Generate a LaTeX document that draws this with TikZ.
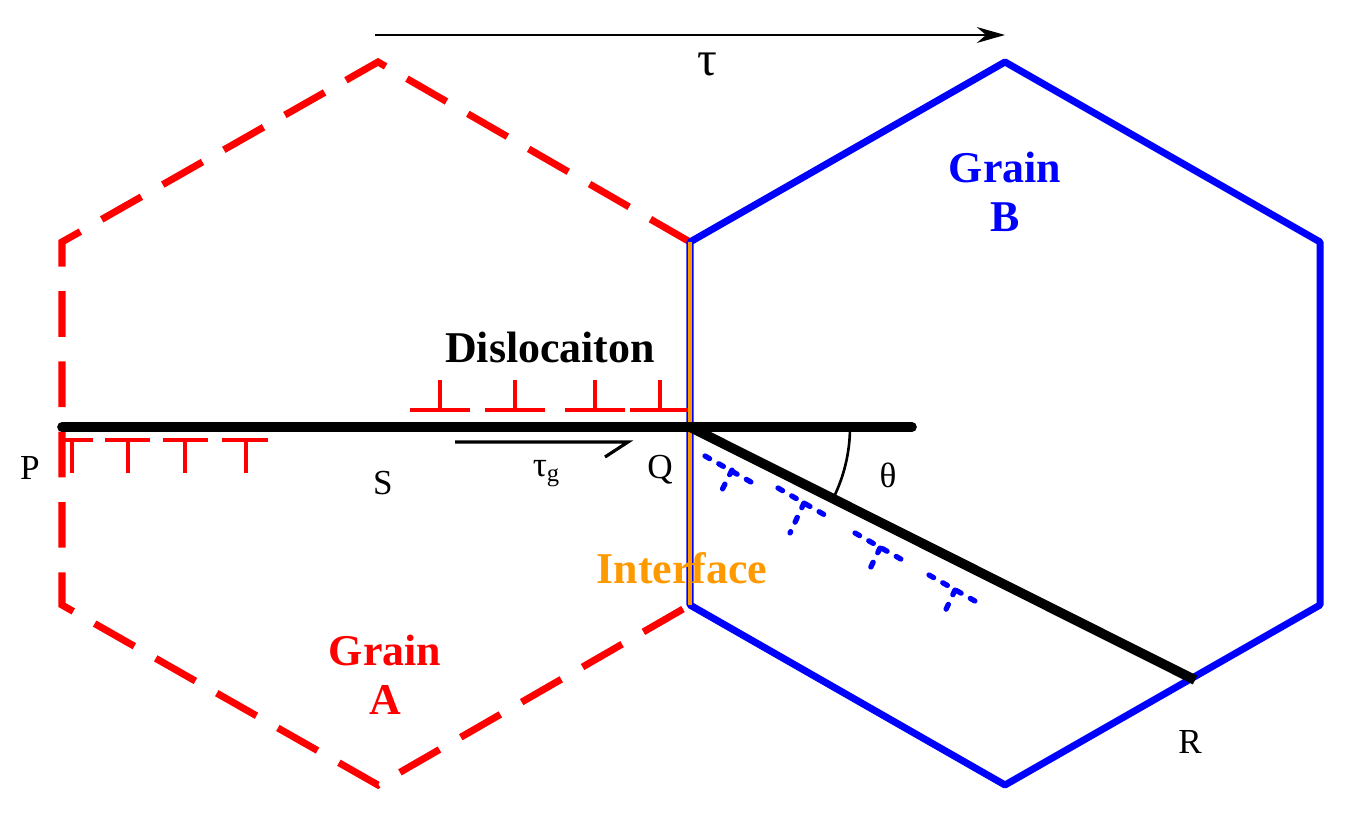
\documentclass[tikz,border=0pt]{standalone}
\usepackage{fontspec}
\setmainfont{Liberation Serif}
\usetikzlibrary{arrows.meta}
\definecolor{ora}{HTML}{FF9900}
\begin{document}
\begin{tikzpicture}[x=0.02cm,y=-0.02cm,
  redhex/.style={draw=red,line width=4pt,dash pattern=on 26pt off 14pt},
  bluehex/.style={draw=blue,line width=4pt,line join=round},
  disl/.style={draw=red,line width=2.2pt},
  bdisl/.style={draw=blue,line width=3pt,dash pattern=on 3pt off 6pt,line cap=round},
  lbl/.style={font=\fontsize{20}{22}\selectfont},
  big/.style={font=\bfseries\fontsize{25}{30}\selectfont,align=center}]
\useasboundingbox (0,0) rectangle (1348,820);
% grain A dashed
\draw[redhex] (690,242) -- (378,62) -- (62,242) -- (62,605) -- (378,785) -- (690,605);
% grain B
\draw[bluehex] (690,242) -- (1005,62) -- (1320,242) -- (1320,605) -- (1005,785) -- (690,605) -- cycle;
\draw[ora,line width=2.5pt] (690,242) -- (690,605);
% tau arrow
\coordinate (t1) at (375,35); \coordinate (t2) at (1005,35);
\draw[line width=1.5pt,-{Stealth[length=16pt,width=9pt]}] (t1) -- (t2);
\node[font=\fontsize{28}{30}\selectfont] (tau) at (707,64) {τ};
% main lines
\coordinate (P) at (62,427); \coordinate (E) at (912,427);
\coordinate (Q) at (690,427); \coordinate (R) at (1195,680);
\draw[line width=5.5pt,line cap=round] (P) -- (E);
\draw[line width=5.5pt] (Q) -- (R);
\draw[line width=1.5pt] (Q) ++(160,0) arc[start angle=0,end angle=26.6,radius=160];
% red dislocations above
\foreach \a/\b/\c in {410/470/440,485/545/515,565/625/595,630/688/660}{
  \draw[disl] (\a,410) -- (\b,410) (\c,410) -- (\c,380);}
% red dislocations below
\foreach \a/\b/\c in {65/93/72,105/150/128,163/208/185,222/268/246}{
  \draw[disl] (\a,440) -- (\b,440) (\c,440) -- (\c,473);}
% tau g arrow
\coordinate (g1) at (455,442); \coordinate (g2) at (628,442); \coordinate (g3) at (605,457);
\draw[line width=1.8pt] (g1) -- (g2) -- (g3);
% blue dislocations
\foreach \a/\b/\c/\d/\e/\f/\g/\h in {705/456/758/486/732/470/718/498, 778/488/830/518/804/503/790/533, 855/533/906/562/880/548/867/575, 929/575/982/605/955/590/942/618}{
  \draw[bdisl] (\a,\b) -- (\c,\d) (\e,\f) -- (\g,\h);}
% labels
\node[lbl] (lP) at (30,468) {P};
\node[lbl] (lS) at (383,483) {S};
\node[lbl] (lQ) at (660,470) {Q};
\node[lbl] (lth) at (888,475) {θ};
\node[lbl] (lR) at (1190,742) {R};
\node[lbl] (ltg) at (546,474) {τ\raisebox{-0.3ex}{\fontsize{14}{14}\selectfont g}};
\node[big,text=blue] (gB) at (1005,192) {Grain\\[-2pt]B};
\node[big,text=red] (gA) at (385,675) {Grain\\[-2pt]A};
\node[big] (dl) at (550,347) {Dislocaiton};
\node[big,text=ora] (itf) at (682,568) {Interface};
\end{tikzpicture}
\end{document}
